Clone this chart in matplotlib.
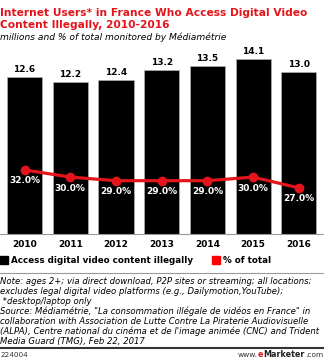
import matplotlib
matplotlib.use("Agg")
import matplotlib.pyplot as plt
from matplotlib.patches import Rectangle
from matplotlib.lines import Line2D

years = ["2010", "2011", "2012", "2013", "2014", "2015", "2016"]
users = [12.6, 12.2, 12.4, 13.2, 13.5, 14.1, 13.0]
pct = [32.0, 30.0, 29.0, 29.0, 29.0, 30.0, 27.0]

RED = "#e3141c"
W, H = 324, 359
fig = plt.figure(figsize=(W / 100, H / 100), dpi=100)

def fx(px):
    return px / W

def fy(py):
    return 1 - py / H

ax_top, ax_bot = 55, 234
ax = fig.add_axes([0, fy(ax_bot), 1, (ax_bot - ax_top) / H])
x = list(range(len(years)))
ax.bar(x, users, width=0.77, color="black", edgecolor="#bbbbbb", linewidth=0.4, zorder=2)
ax.set_xlim(-0.536, 6.55)
ax.set_ylim(0, (ax_bot - ax_top) / 12.43)
for xi, v in zip(x, users):
    ax.text(xi, v + 0.25, f"{v:.1f}", ha="center", va="bottom", fontsize=6.5,
            fontweight="bold", color="black")
for s in ["top", "right", "left"]:
    ax.spines[s].set_visible(False)
ax.spines["bottom"].set_color("#999999")
ax.spines["bottom"].set_linewidth(0.8)
ax.set_yticks([])
ax.set_xticks(x)
ax.set_xticklabels(years, fontsize=6.5, fontweight="bold")
ax.tick_params(axis="x", length=0, pad=4)

ax2 = ax.twinx()
ax2.set_ylim(14.2, 63.9)
ax2.plot(x, pct, color=RED, lw=2.3, marker="o", ms=6, zorder=3)
for xi, p in zip(x, pct):
    ax2.text(xi, p - 1.8, f"{p:.1f}%", ha="center", va="top", fontsize=6.5,
             fontweight="bold", color="white")
ax2.axis("off")

fig.text(0, fy(16), "Internet Users* in France Who Access Digital Video", fontsize=7.65,
         fontweight="bold", color=RED, va="baseline")
fig.text(0, fy(28), "Content Illegally, 2010-2016", fontsize=7.65,
         fontweight="bold", color=RED, va="baseline")
fig.text(0, fy(40), "millions and % of total monitored by Médiamétrie", fontsize=6.6,
         style="italic", color="black", va="baseline")

# legend
fig.patches.append(Rectangle((fx(0), fy(264)), fx(8), 8 / H, color="black",
                             transform=fig.transFigure, figure=fig))
fig.text(fx(11), fy(263), "Access digital video content illegally", fontsize=6.3,
         fontweight="bold", va="baseline")
fig.patches.append(Rectangle((fx(212), fy(264)), fx(8), 8 / H, color="#ff0000",
                             transform=fig.transFigure, figure=fig))
fig.text(fx(223), fy(263), "% of total", fontsize=6.3, fontweight="bold", va="baseline")

fig.lines.append(Line2D([0, 1], [fy(273), fy(273)], color="#999999", lw=0.8,
                        transform=fig.transFigure))

notes = [
    "Note: ages 2+; via direct download, P2P sites or streaming; all locations;",
    "excludes legal digital video platforms (e.g., Dailymotion,YouTube);",
    "*desktop/laptop only",
    "Source: Médiamétrie, \"La consommation illégale de vidéos en France\" in",
    "collaboration with Association de Lutte Contre La Piraterie Audiovisuelle",
    "(ALPA), Centre national du cinéma et de l'image animée (CNC) and Trident",
    "Media Guard (TMG), Feb 22, 2017",
]
y0 = 284
for i, line in enumerate(notes):
    fig.text(0, fy(y0 + i * 10.0), (" " if i == 2 else "") + line, fontsize=6.15,
             style="italic", va="baseline")

fig.lines.append(Line2D([0, 1], [fy(348), fy(348)], color="#333333", lw=1.5,
                        transform=fig.transFigure))
fig.text(0, fy(357), "224004", fontsize=5.2, color="#333333", va="baseline")

# footer brand, chained left to right
renderer = fig.canvas.get_renderer()
parts = [("www.", "normal", "#333333", 5.4), ("e", "bold", RED, 5.8),
         ("Marketer", "bold", "#222222", 5.8), (".com", "normal", "#333333", 5.4)]
texts = []
for s, wgt, col, fs in parts:
    texts.append(fig.text(0, fy(357), s, fontsize=fs, fontweight=wgt, color=col, va="baseline"))
widths = [t.get_window_extent(renderer).width for t in texts]
cur = W - sum(widths) - 1
for t, w in zip(texts, widths):
    t.set_x(fx(cur))
    cur += w

fig.savefig("out.png", dpi=100, facecolor="white")
